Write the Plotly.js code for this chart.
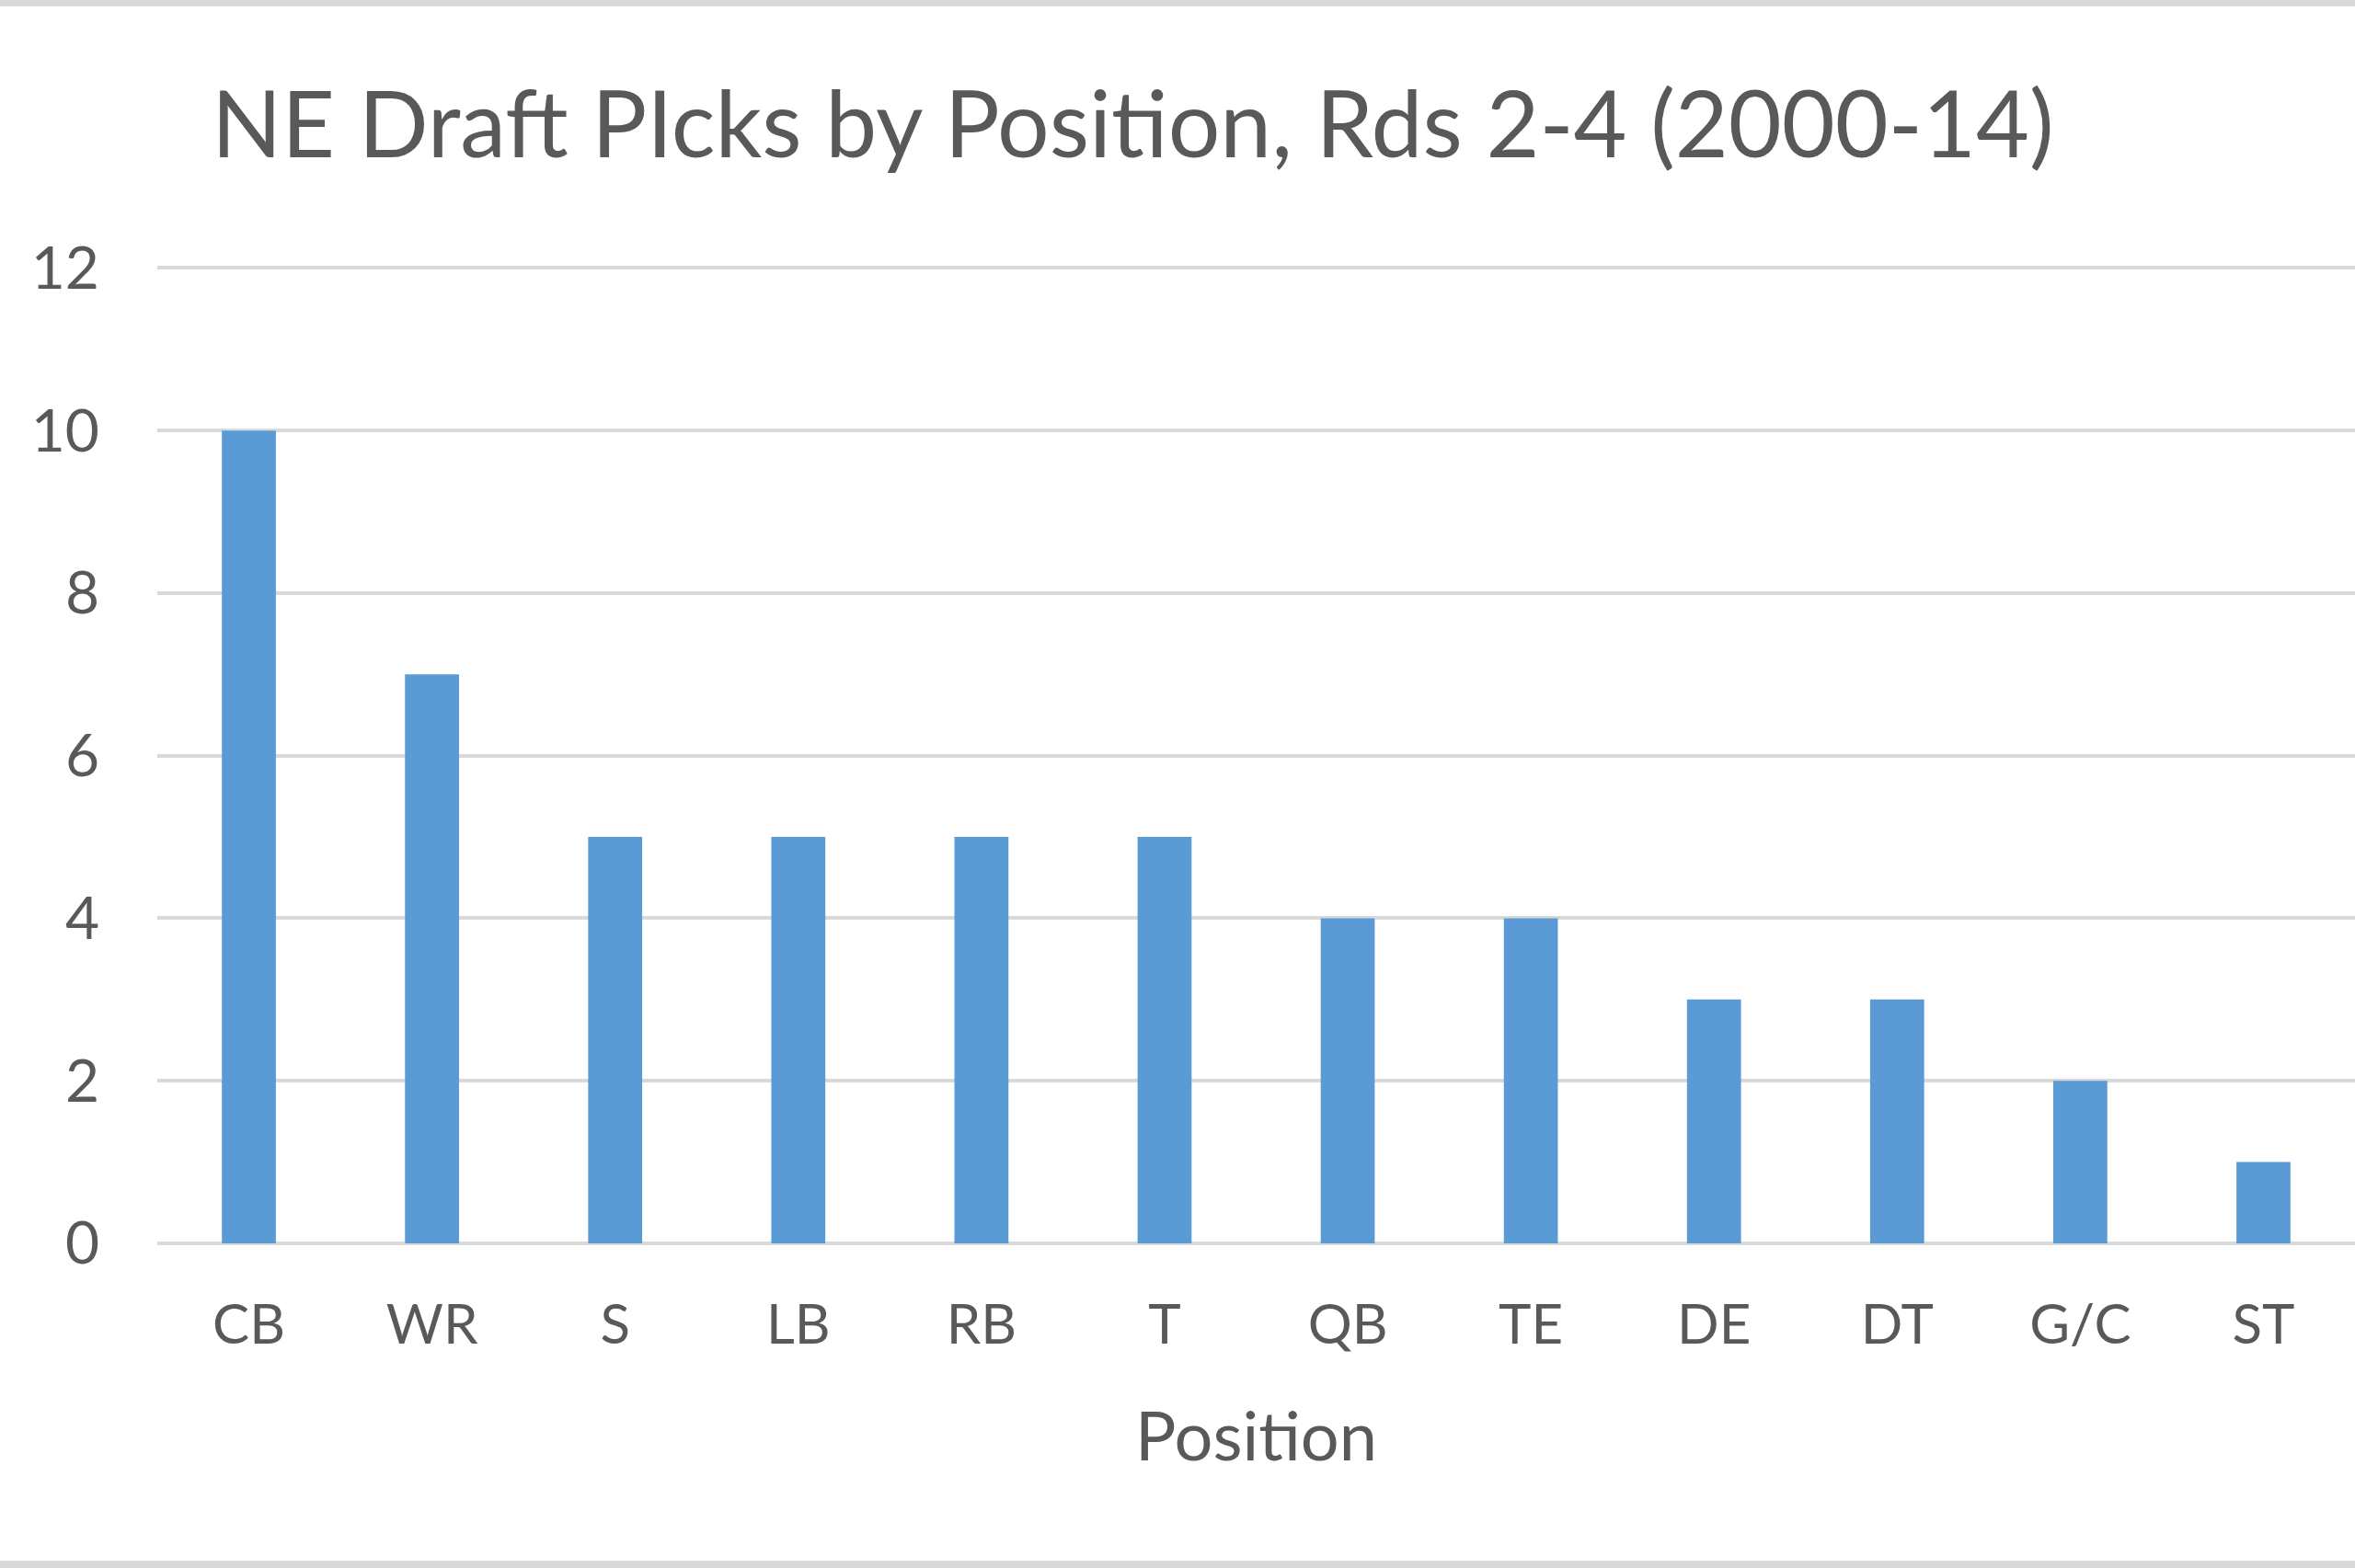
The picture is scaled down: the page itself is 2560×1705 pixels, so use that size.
<!DOCTYPE html>
<html>
<head>
<meta charset="utf-8">
<script src="https://cdn.plot.ly/plotly-3.0.1.min.js"></script>
<style>
  html, body { margin: 0; padding: 0; background: #ffffff; }
  #plot { width: 2560px; height: 1705px; }
</style>
</head>
<body>
<div id="plot"></div>
<script>
'use strict';

// picks per position, rounds 2-4, 2000-14
const positions = ['CB', 'WR', 'S', 'LB', 'RB', 'T', 'QB', 'TE', 'DE', 'DT', 'G/C', 'ST'];
const picks = [10, 7, 5, 5, 5, 5, 4, 4, 3, 3, 2, 1];
const yTicks = [0, 2, 4, 6, 8, 10, 12];

const textColor = '#595959',
      gridColor = '#d9d9d9',
      fontName = 'Lato, "Open Sans", sans-serif';

var trace = {
  type: 'bar',
  x: positions,
  y: picks,
  marker: {color: '#5b9bd5', line: {width: 0}},
  hoverinfo: 'x+y'
};

var layout = {
  width: 2560,
  height: 1705,
  paper_bgcolor: '#ffffff',
  plot_bgcolor: '#ffffff',
  showlegend: false,
  bargap: 0.705,
  margin: {l: 171, r: 0, t: 287, b: 353, pad: 0},
  font: {family: fontName, color: textColor},
  title: {
    text: 'NE Draft PIcks by Position, Rds 2-4 (2000-14)',
    font: {family: fontName, size: 100, color: textColor},
    xref: 'container',
    yref: 'container',
    x: 230 / 2560,
    xanchor: 'left',
    y: 1 - 136 / 1705,
    yanchor: 'middle'
  },
  xaxis: {
    type: 'category',
    showgrid: false,
    showline: false,
    zeroline: false,
    ticks: '',
    ticklabelstandoff: 48,
    tickfont: {family: fontName, size: 60, color: textColor},
    title: {
      text: 'Position',
      font: {family: fontName, size: 74, color: textColor},
      standoff: 63
    }
  },
  yaxis: {
    // a hair above 12 so the top gridline is drawn
    range: [0, 12.05],
    tickvals: yTicks,
    showgrid: true,
    gridcolor: gridColor,
    gridwidth: 4,
    zeroline: true,
    zerolinecolor: gridColor,
    zerolinewidth: 4,
    showline: false,
    ticks: '',
    ticklabelstandoff: 62,
    tickfont: {family: fontName, size: 64, color: textColor}
  },
  shapes: [
    // chart frame edges seen at top and bottom of the screenshot
    {type: 'line', xref: 'paper', yref: 'paper', x0: -0.1, x1: 1.1,
     y0: 1 + 284 / 1065, y1: 1 + 284 / 1065, line: {color: gridColor, width: 8}},
    {type: 'line', xref: 'paper', yref: 'paper', x0: -0.1, x1: 1.1,
     y0: -349 / 1065, y1: -349 / 1065, line: {color: gridColor, width: 8}}
  ]
};

var config = {
  responsive: false,
  displayModeBar: false,
  staticPlot: true
};

Plotly.newPlot('plot', [trace], layout, config);
</script>
</body>
</html>
